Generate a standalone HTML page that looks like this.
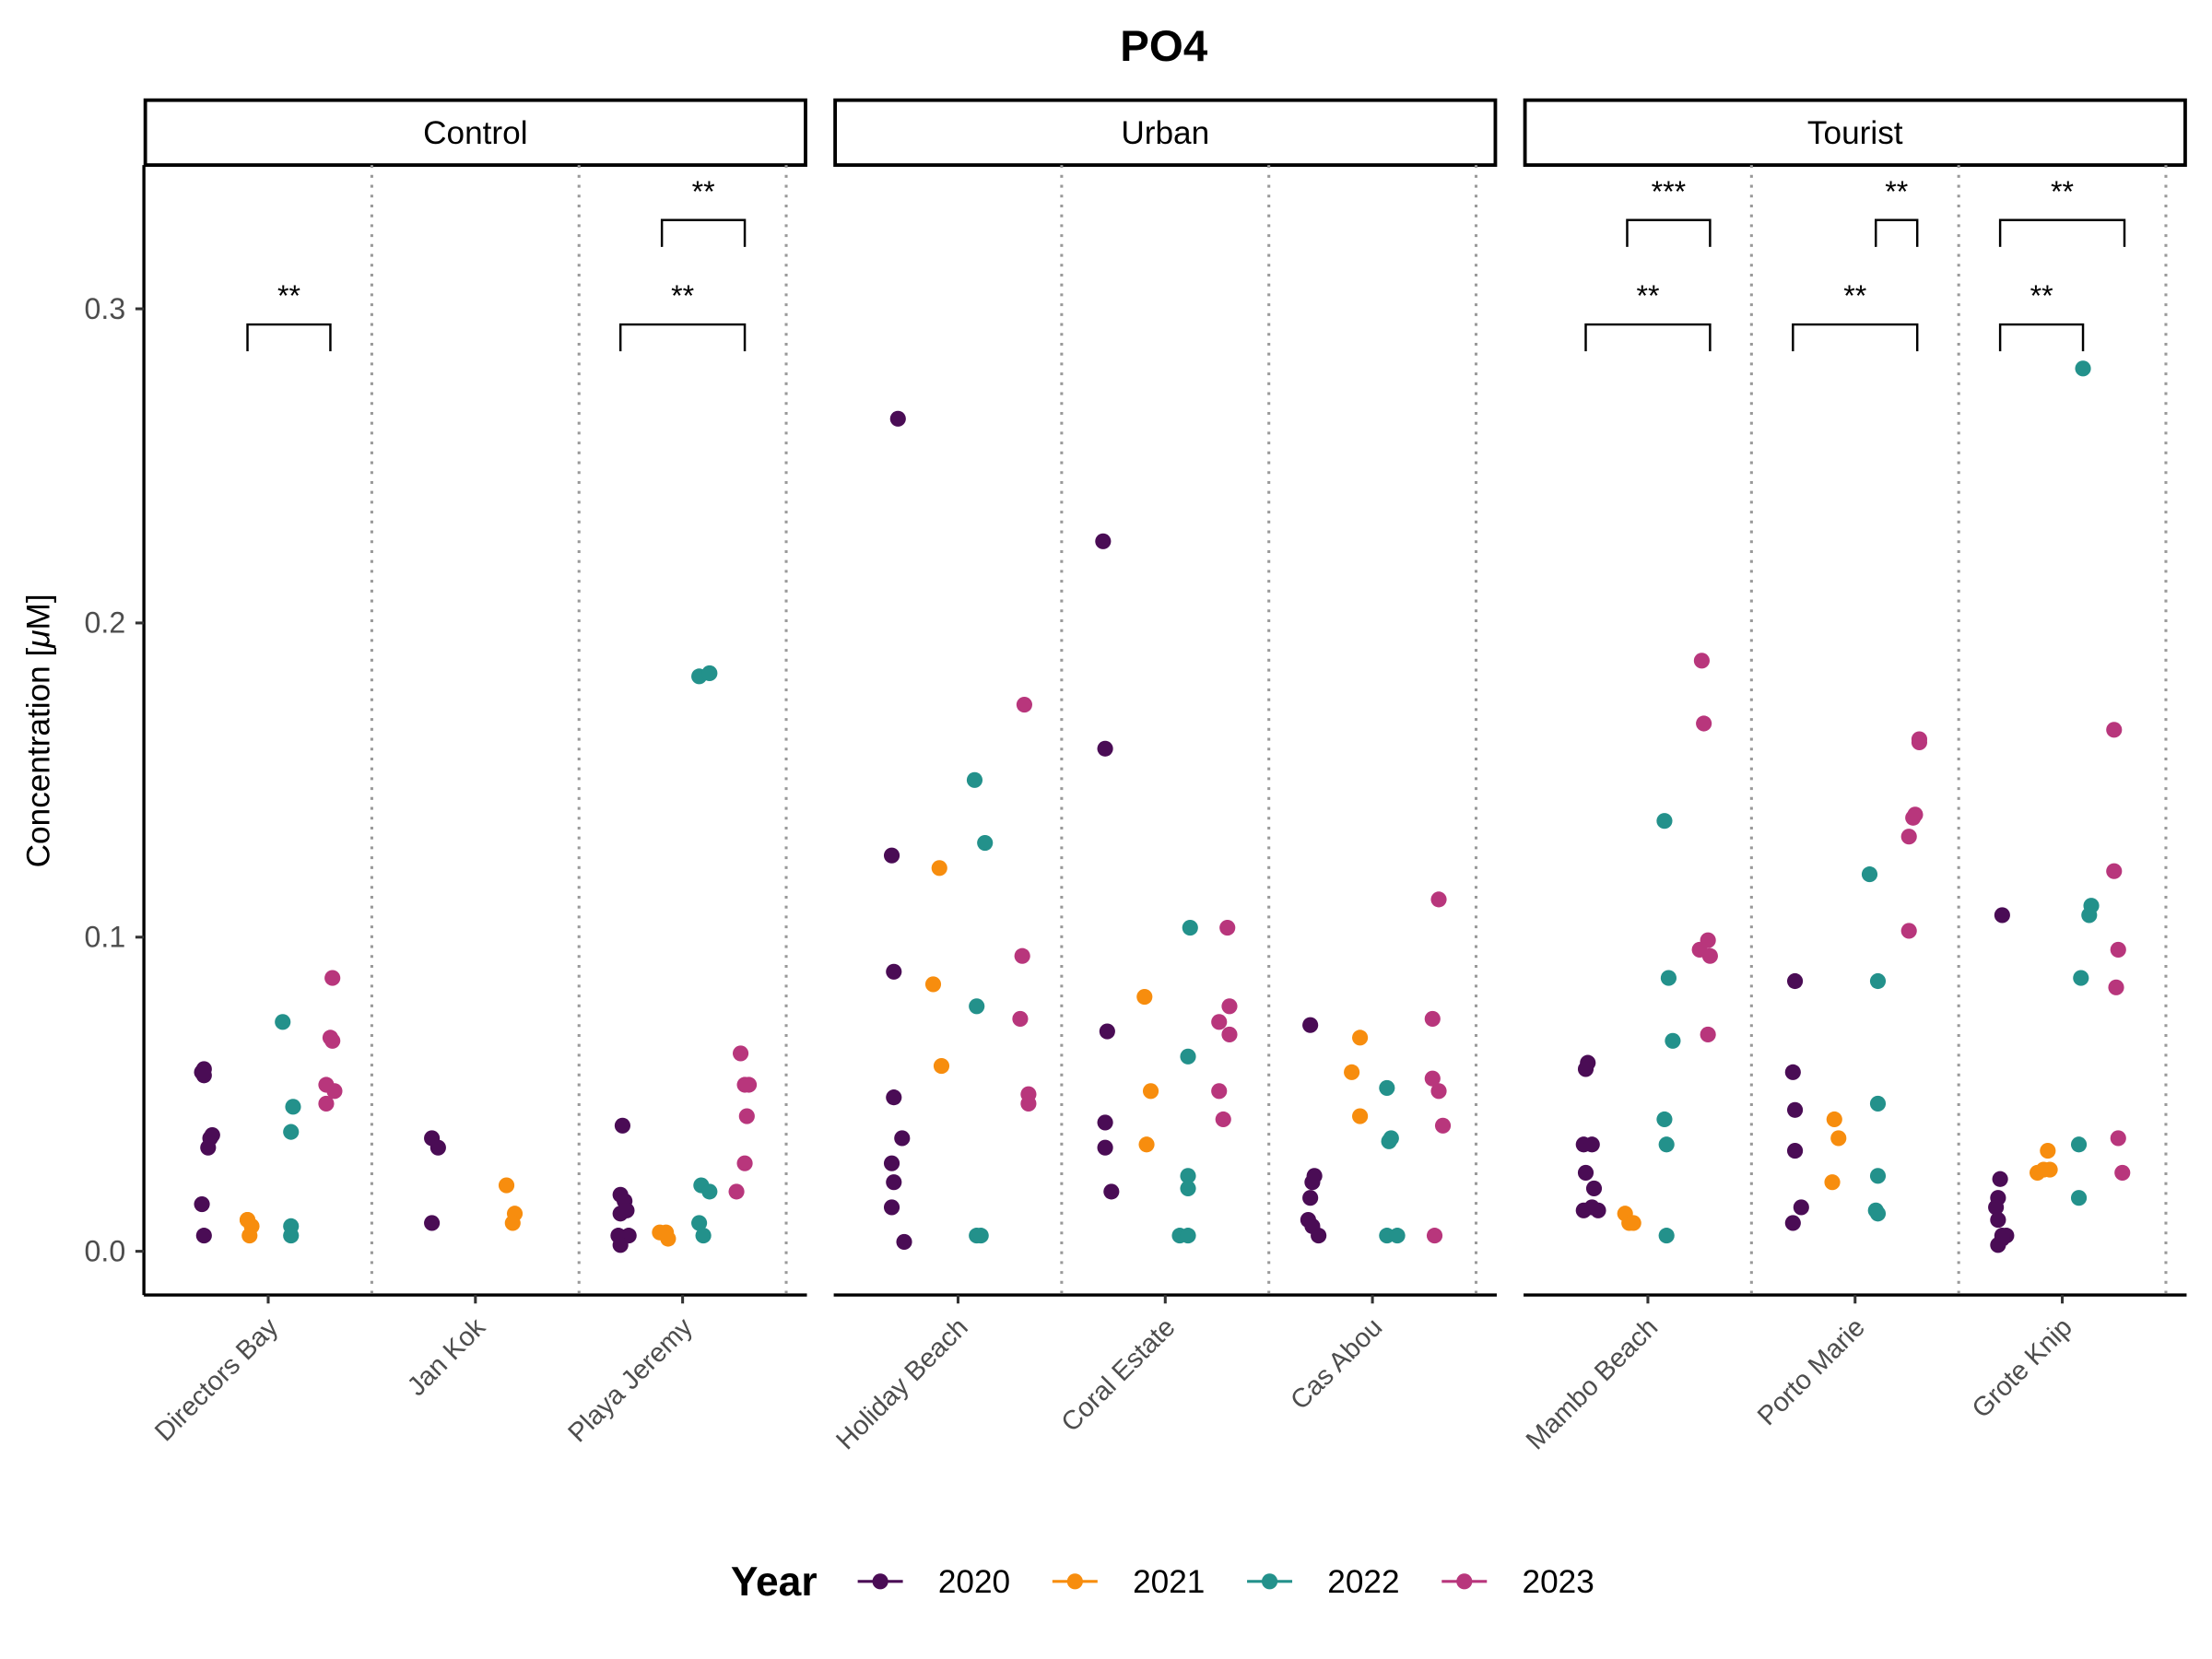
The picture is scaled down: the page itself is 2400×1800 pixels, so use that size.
<!DOCTYPE html>
<html><head><meta charset="utf-8"><style>
html,body{margin:0;padding:0;background:#fff;}
svg{display:block;font-family:"Liberation Sans",Arial,sans-serif;}
</style></head><body>
<svg id="chart" width="2400" height="1800" viewBox="0 0 1568 1176" xmlns="http://www.w3.org/2000/svg">
<text x="825" y="43" text-anchor="middle" font-size="31" font-weight="bold">PO4</text>
<text transform="translate(35,518) rotate(-90)" text-anchor="middle" font-size="23">Concentration [<tspan font-style="italic">μ</tspan>M]</text>
<g id="plot"></g>
<g>
<text x="518" y="1131" font-size="29" font-weight="bold">Year</text>
<g id="legend"></g>
</g>
</svg>
<script>
const years = ['2020','2021','2022','2023'];
const colors = ['#4a0c55','#f78d0e','#23918b','#b8367c'];
const panels = ['Control','Urban','Tourist'];
const sites = ['Directors Bay','Jan Kok','Playa Jeremy','Holiday Beach','Coral Estate','Cas Abou','Mambo Beach','Porto Marie','Grote Knip'];
const yTicks = [0,0.1,0.2,0.3];
const yTickLabels = ['0.0','0.1','0.2','0.3'];
// values[site][year]
const values = [
 [[0.056,0.058,0.057,0.033,0.036,0.037,0.015,0.005],[0.010,0.008,0.005,0.010],[0.073,0.046,0.038,0.008,0.005],[0.087,0.068,0.067,0.053,0.051,0.047]],
 [[0.036,0.033,0.009],[0.021,0.012,0.009],[],[]],
 [[0.040,0.018,0.016,0.012,0.013,0.005,0.005,0.002],[0.006,0.006,0.004],[0.183,0.184,0.021,0.019,0.009,0.005],[0.063,0.053,0.043,0.028,0.019,0.053]],
 [[0.265,0.126,0.089,0.049,0.036,0.028,0.022,0.014,0.003],[0.122,0.085,0.059],[0.150,0.130,0.078,0.005,0.005],[0.174,0.094,0.074,0.050,0.047]],
 [[0.226,0.160,0.070,0.041,0.033,0.019],[0.081,0.051,0.034],[0.103,0.062,0.024,0.020,0.005,0.005],[0.103,0.078,0.073,0.069,0.051,0.042]],
 [[0.072,0.024,0.022,0.017,0.010,0.008,0.005],[0.068,0.057,0.043],[0.052,0.036,0.035,0.005,0.005],[0.112,0.074,0.055,0.051,0.040,0.005]],
 [[0.060,0.058,0.034,0.034,0.025,0.020,0.013,0.014,0.013],[0.012,0.009,0.009],[0.137,0.087,0.067,0.042,0.034,0.005],[0.188,0.168,0.099,0.096,0.094,0.069]],
 [[0.086,0.057,0.045,0.032,0.014,0.009],[0.042,0.036,0.022],[0.120,0.086,0.047,0.024,0.013,0.012],[0.163,0.162,0.139,0.138,0.132,0.102]],
 [[0.107,0.023,0.017,0.014,0.010,0.005,0.004,0.002,0.005],[0.032,0.026,0.025,0.026],[0.281,0.110,0.107,0.087,0.034,0.017],[0.166,0.121,0.096,0.084,0.036,0.025]]
];
// horizontal jitter (fraction of category width)
const jitter = [
 [[-0.02,-0.02,-0.03,0,0.01,0.02,-0.03,-0.02],[-0.01,0.01,0,-0.01],[-0.04,0.01,0,0,0],[0,-0.01,0,-0.03,0.01,-0.03]],
 [[-0.02,0.01,-0.02],[-0.06,-0.02,-0.03],[],[]],
 [[0,-0.01,0.01,-0.01,0.02,-0.02,0.03,-0.01],[-0.02,0.01,0.02],[-0.03,0.02,-0.02,0.02,-0.03,-0.01],[-0.03,-0.01,0,-0.01,-0.05,0.01]],
 [[0,-0.03,-0.02,-0.02,0.02,-0.03,-0.02,-0.03,0.03],[0,-0.03,0.01],[-0.03,0.02,-0.02,-0.02,0],[0.01,0,-0.01,0.03,0.03]],
 [[-0.01,0,0.01,0,0,0.03],[-0.01,0.02,0],[0.01,0,0,0,-0.04,0],[-0.01,0,-0.05,0,-0.05,-0.03]],
 [[-0.01,0.01,0,-0.01,-0.02,0,0.03],[0.03,-0.01,0.03],[-0.04,-0.02,-0.03,-0.04,0.01],[0.01,-0.02,-0.02,0.01,0.03,-0.01]],
 [[0,-0.01,-0.02,0.02,-0.01,0.03,-0.02,0.02,0.05],[-0.02,0,0.02],[-0.03,-0.01,0.01,-0.03,-0.02,-0.02],[-0.05,-0.04,-0.02,-0.06,-0.01,-0.02]],
 [[0,-0.01,0,0,0.03,-0.01],[-0.01,0.01,-0.02],[-0.04,0,0,0,-0.01,0],[0,0,-0.02,-0.03,-0.05,-0.05]],
 [[0,-0.01,-0.02,-0.03,-0.02,0.02,0,-0.02,0],[0.02,0,-0.03,0.03],[-0.01,0.03,0.02,-0.02,-0.03,-0.03],[-0.06,-0.06,-0.04,-0.05,-0.04,-0.02]]
];
// significance brackets: site, year from, year to, level(0 low,1 high), label
const brSite = [0,2,2,6,6,7,7,8,8];
const brFrom = [1,0,1,0,1,0,2,0,0];
const brTo   = [3,3,3,3,3,3,3,2,3];
const brLevel= [0,0,1,0,1,0,1,0,1];
const brLabel= ['**','**','**','**','***','**','**','**','**'];

const NS='http://www.w3.org/2000/svg';
const plot=document.getElementById('plot');
function mk(tag,attrs,parent){const e=document.createElementNS(NS,tag);for(const k in attrs)e.setAttribute(k,attrs[k]);(parent||plot).appendChild(e);return e;}
const panelX0=[102,591,1080], panelW=470, plotTop=117, plotBot=918;
const bandW=panelW/3.2;
function yScale(v){return 887-v*2227;}
function siteX(i){const p=Math.floor(i/3),k=i%3;return panelX0[p]+(0.6+k)*bandW;}
function dodgeX(i,y){
 const present=values[i].map((a,k)=>a.length?k:-1).filter(k=>k>=0);
 const n=present.length, idx=present.indexOf(y);
 const w=0.8/n;
 return siteX(i)+(-0.4+w*(idx+0.5))*bandW;
}

panels.forEach((name,p)=>{
 const x0=panelX0[p];
 const strip=mk('rect',{x:x0+1,y:71,width:panelW-2,height:46,fill:'#fff',stroke:'#000','stroke-width':2.5});
 
 
 const st=mk('text',{x:x0+panelW/2,y:102,'text-anchor':'middle','font-size':23});
 st.textContent=name;
 
 
 const ax=mk('line',{x1:x0,x2:x0+panelW,y1:plotBot,y2:plotBot,stroke:'#000','stroke-width':2.2});
 
 
 for(let k=0;k<3;k++){
  const lx=x0+(1.1+k)*bandW;
  const dl=mk('line',{x1:lx,x2:lx,y1:plotTop,y2:plotBot,stroke:'#999','stroke-width':2,'stroke-dasharray':'2,5'});
  
  
 }
});
const yax=mk('line',{x1:102,x2:102,y1:plotTop,y2:plotBot,stroke:'#000','stroke-width':2.2});


yTicks.forEach((t,i)=>{
 const y=yScale(t);
 const tk=mk('line',{x1:96,x2:102,y1:y,y2:y,stroke:'#333','stroke-width':2});
 
 
 const tl=mk('text',{x:89,y:y+7,'text-anchor':'end','font-size':21,fill:'#4d4d4d'});
 tl.textContent=yTickLabels[i];
 
 
});
sites.forEach((s,i)=>{
 const x=siteX(i);
 const tk=mk('line',{x1:x,x2:x,y1:plotBot,y2:plotBot+6,stroke:'#333','stroke-width':2});
 
 
 const tl=mk('text',{transform:`translate(${x+8},${plotBot+24}) rotate(-45)`,'text-anchor':'end','font-size':19,fill:'#4d4d4d'});
 tl.textContent=s;
 
 
 values[i].forEach((arr,y)=>{
  arr.forEach((v,j)=>{
   const c=mk('circle',{cx:dodgeX(i,y)+(jitter[i][y][j]+0.01)*bandW,cy:yScale(v),r:5.6,fill:colors[y]});
   
   
  });
 });
});
const levelY=[230,156];
brSite.forEach((s,b)=>{
 const xa=dodgeX(s,brFrom[b]), xb=dodgeX(s,brTo[b]), y=levelY[brLevel[b]];
 const pth=mk('path',{d:`M${xa},${y+19}V${y}H${xb}V${y+19}`,fill:'none',stroke:'#000','stroke-width':1.6});
 
 
 const t=mk('text',{x:(xa+xb)/2,y:y-13,'text-anchor':'middle','font-size':21});
 t.textContent=brLabel[b];
 
 
});
const leg=document.getElementById('legend');
const legKeyX=[624,762,900,1038];
years.forEach((yr,i)=>{
 const g=mk('g',{},leg);
 
 
 mk('line',{x1:legKeyX[i]-16,x2:legKeyX[i]+16,y1:1121,y2:1121,stroke:colors[i],'stroke-width':2},g);
 mk('circle',{cx:legKeyX[i],cy:1121,r:5.6,fill:colors[i]},g);
 const t=mk('text',{x:legKeyX[i]+41,y:1129,'font-size':23},g);
 t.textContent=yr;
});
</script>
</body></html>
